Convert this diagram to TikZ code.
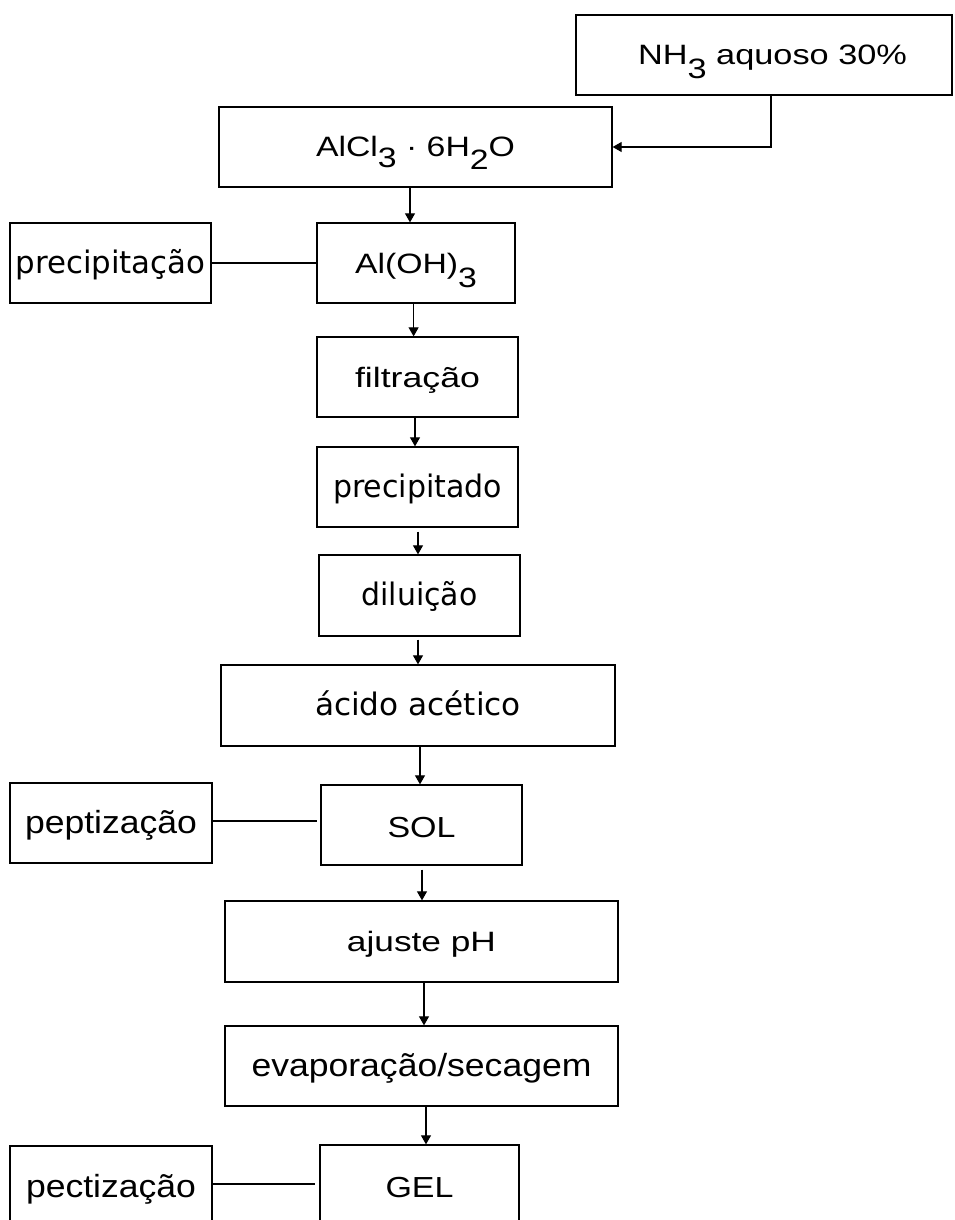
\documentclass[tikz,border=0pt]{standalone}
\usepackage{fontspec}
\usepackage{graphicx}
\setmainfont{Liberation Sans}
\newfontfamily\verdfam{DejaVu Sans}
\usetikzlibrary{arrows.meta,calc}
\newcommand{\fitto}[2]{\resizebox{#1pt}{\height}{#2}}
\newcommand{\lowsub}[2]{\raisebox{-#1pt}[0pt][0pt]{#2}}
\newcommand{\arfont}{\fontsize{28pt}{32pt}\selectfont}
\newcommand{\arbig}{\fontsize{29pt}{33pt}\selectfont}
\newcommand{\arlarge}{\fontsize{32pt}{36pt}\selectfont}
\newcommand{\vdfont}{\verdfam\fontsize{31pt}{36pt}\selectfont}
\begin{document}
\begin{tikzpicture}[x=1pt,y=-1pt,
  box/.style={draw, line width=1.3pt, inner sep=0pt, text height=20pt, text depth=0pt, minimum height=80pt},
  arr/.style={line width=1.1pt, -{Triangle[width=10pt,length=9pt]}},
  ln/.style={line width=1.1pt}]
\useasboundingbox (0,0) rectangle (954,1220);
\clip (0,0) rectangle (954,1220);
\fill[white] (0,0) rectangle (954,1220);

% main column
\node[box, minimum width=376pt] (nh3) at (764,55) {\hspace*{17pt}\arfont\fitto{269}{NH\lowsub{14}{3} aquoso 30\%}};
\node[box, minimum width=393pt] (alcl) at (415.5,147) {\arfont\fitto{199}{AlCl\lowsub{10}{3} · 6H\lowsub{13}{2}O}};
\node[box, minimum width=198pt] (aloh) at (416,263) {\arfont\fitto{122}{Al(OH)\lowsub{14}{3}}};
\node[box, minimum width=201pt] (filt) at (417.5,377) {\arfont\fitto{125}{filtração}};
\node[box, minimum width=201pt] (pdo) at (417.5,487) {\vdfont\fitto{169}{precipitado}};
\node[box, minimum width=201pt, minimum height=81pt] (dil) at (419.5,595.5) {\vdfont\fitto{116}{diluição}};
\node[box, minimum width=394pt, minimum height=81pt] (acid) at (418,705.5) {\vdfont\fitto{206}{ácido acético}};
\node[box, minimum width=201pt, text height=24pt] (sol) at (421.5,825) {\arbig\fitto{68}{SOL}};
\node[box, minimum width=393pt, minimum height=81pt] (aj) at (421.5,941.5) {\arfont\fitto{149}{ajuste pH}};
\node[box, minimum width=393pt] (evap) at (421.5,1066) {\arlarge\fitto{340}{evaporação/secagem}};
\node[box, minimum width=199pt, text height=24pt] (gel) at (419.5,1185) {\arbig\fitto{68}{GEL}};

% side boxes
\node[box, minimum width=201pt] (prec) at (110.5,263) {\vdfont\fitto{190}{precipitação}};
\node[box, minimum width=202pt, text height=21pt] (pep) at (111,823) {\arlarge\fitto{172}{peptização}};
\node[box, minimum width=202pt, text height=22pt] (pec) at (111,1186) {\arlarge\fitto{170}{pectização}};

% connectors
\draw[arr] ([xshift=7pt]nh3.south) |- (alcl.east);
\draw[arr] ([xshift=-5.5pt]alcl.south) -- ([xshift=-6pt]aloh.north);
\draw[arr] ([xshift=-2.4pt]aloh.south) -- ([xshift=-3.9pt]filt.north);
\draw[arr] ([xshift=-2.5pt]filt.south) -- ([xshift=-2.5pt]pdo.north);
\draw[arr] ([xshift=0.5pt,yshift=-4pt]pdo.south) -- ([xshift=-1.5pt]dil.north);
\draw[arr] ([xshift=-1.5pt,yshift=-3pt]dil.south) -- (acid.north);
\draw[arr] ([xshift=2pt]acid.south) -- ([xshift=-1.5pt]sol.north);
\draw[arr] ([xshift=0.5pt,yshift=-4pt]sol.south) -- ([xshift=0.5pt]aj.north);
\draw[arr] ([xshift=2.5pt]aj.south) -- ([xshift=2.5pt]evap.north);
\draw[arr] ([xshift=4.5pt]evap.south) -- ([xshift=6.5pt]gel.north);

\draw[ln] (prec.east) -- (prec.east -| aloh.west);
\draw[ln] ([yshift=2pt]pep.east) -- ([yshift=2pt,xshift=-3pt]pep.east -| sol.west);
\draw[ln] ([yshift=2pt]pec.east) -- ([yshift=2pt,xshift=-4pt]pec.east -| gel.west);
\end{tikzpicture}
\end{document}
